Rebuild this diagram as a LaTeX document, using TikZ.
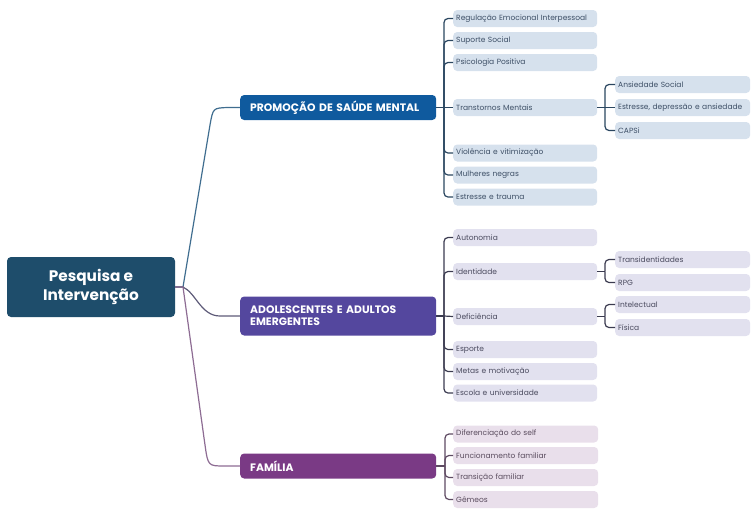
\documentclass[tikz,border=0pt]{standalone}
\usepackage{fontspec}
\setmainfont{Poppins}
\definecolor{rootc}{HTML}{1E4D6B}
\definecolor{bA}{HTML}{0F5A9E}
\definecolor{bB}{HTML}{54479E}
\definecolor{bC}{HTML}{7A3A85}
\definecolor{cA}{HTML}{3F6D8F}
\definecolor{cB}{HTML}{5D5A78}
\definecolor{cC}{HTML}{8D6C93}
\definecolor{kA}{HTML}{2A4660}
\definecolor{kB}{HTML}{3B3B50}
\definecolor{kC}{HTML}{5E4A62}
\definecolor{fA}{HTML}{D6E1ED}
\definecolor{fB}{HTML}{E2E1EF}
\definecolor{fC}{HTML}{E9DFEB}
\definecolor{tA}{HTML}{3D4F66}
\definecolor{tB}{HTML}{4A4A5E}
\definecolor{tC}{HTML}{5A4C5E}
\begin{document}
\begin{tikzpicture}[x=1pt,y=-1pt,
  rootbox/.style={fill=rootc, text=white, rounded corners=4pt, minimum width=168pt, minimum height=60pt, align=center, inner sep=0pt, font=\fontsize{15.3}{18.5}\selectfont\bfseries},
  branchbox/.style={anchor=west, text=white, rounded corners=4pt, minimum height=25pt, text width=176pt, inner xsep=10pt, inner ysep=0pt, align=left, font=\fontsize{10.8}{12}\selectfont\bfseries},
  leafbase/.style={anchor=west, rounded corners=4pt, minimum height=17pt, inner xsep=3pt, inner ysep=0pt, align=left, font=\fontsize{7.5}{8.5}\selectfont},
  leafA/.style={leafbase, fill=fA, text=tA, text width=138pt},
  leafB/.style={leafbase, fill=fB, text=tB, text width=138pt},
  leafC/.style={leafbase, fill=fC, text=tC, text width=139pt},
  subA/.style={leafbase, fill=fA, text=tA, text width=129pt},
  subB/.style={leafbase, fill=fB, text=tB, text width=129pt},
  conn/.style={line width=1.2pt, line join=round},
  brk/.style={line width=1.2pt, rounded corners=4pt},
]
\useasboundingbox (0,0) rectangle (752,515);

% root
\node[rootbox] (root) at (91,287) {Pesquisa e\\Intervenção};
\coordinate (j) at (183,287);

% branches
\node[branchbox, fill=bA] (b1) at (240,107.5) {PROMOÇÃO DE SAÚDE MENTAL};
\node[branchbox, fill=bB, minimum height=39pt] (b2) at (240,316) {ADOLESCENTES E ADULTOS\\EMERGENTES};
\node[branchbox, fill=bC] (b3) at (240,466) {FAMÍLIA};

% root connectors
\draw[conn, cA] (root.east) -- (j) -- (210,125) .. controls (213,108) .. (228,107.5) -- (b1.west);
\draw[conn, cB] (root.east) -- (j) .. controls (196,293) and (201,316) .. (220,316) -- (b2.west);
\draw[conn, cC] (root.east) -- (j) -- (205,445) .. controls (208,466) .. (225,466) -- (b3.west);

% branch 1 leaves
\node[leafA] (a1) at (453,18.5) {Regulação Emocional Interpessoal};
\node[leafA] (a2) at (453,40.5) {Suporte Social};
\node[leafA] (a3) at (453,62.5) {Psicologia Positiva};
\node[leafA] (a4) at (453,107.5) {Transtornos Mentais};
\node[leafA] (a5) at (453,153) {Violência e vitimização};
\node[leafA] (a6) at (453,175) {Mulheres negras};
\node[leafA] (a7) at (453,197) {Estresse e trauma};
\coordinate (k1) at (444,107.5);
\draw[brk, kA] (b1.east) -- (k1);
\foreach \n in {a1,a2,a3,a5,a6,a7} \draw[brk, kA] (k1) |- (\n.west);
\draw[brk, kA] (k1) -- (a4.west);

\node[subA] (s1) at (615,84.5) {Ansiedade Social};
\node[subA] (s2) at (615,107.5) {Estresse, depressão e ansiedade};
\node[subA] (s3) at (615,130.5) {CAPSi};
\coordinate (k2) at (605,107.5);
\draw[brk, kA] (a4.east) -- (k2);
\foreach \n in {s1,s3} \draw[brk, kA] (k2) |- (\n.west);
\draw[brk, kA] (k2) -- (s2.west);

% branch 2 leaves
\node[leafB] (m1) at (453,237.5) {Autonomia};
\node[leafB] (m2) at (453,271.5) {Identidade};
\node[leafB] (m3) at (453,316.5) {Deficiência};
\node[leafB] (m4) at (453,349.5) {Esporte};
\node[leafB] (m5) at (453,371.5) {Metas e motivação};
\node[leafB] (m6) at (453,393) {Escola e universidade};
\coordinate (k3) at (444,316);
\draw[brk, kB] (b2.east) -- (k3);
\foreach \n in {m1,m2,m4,m5,m6} \draw[brk, kB] (k3) |- (\n.west);
\draw[brk, kB] (k3) -- (m3.west);

\node[subB] (t1) at (615,259.5) {Transidentidades};
\node[subB] (t2) at (615,282.5) {RPG};
\coordinate (k4) at (605,271.5);
\draw[brk, kB] (m2.east) -- (k4);
\foreach \n in {t1,t2} \draw[brk, kB] (k4) |- (\n.west);

\node[subB] (t3) at (615,304.5) {Intelectual};
\node[subB] (t4) at (615,327.5) {Física};
\coordinate (k5) at (605,316.5);
\draw[brk, kB] (m3.east) -- (k5);
\foreach \n in {t3,t4} \draw[brk, kB] (k5) |- (\n.west);

% branch 3 leaves
\node[leafC] (f1) at (453,434) {Diferenciação do self};
\node[leafC] (f2) at (453,455.5) {Funcionamento familiar};
\node[leafC] (f3) at (453,477.5) {Transição familiar};
\node[leafC] (f4) at (453,499.5) {Gêmeos};
\coordinate (k6) at (445,466);
\draw[brk, kC] (b3.east) -- (k6);
\foreach \n in {f1,f2,f3,f4} \draw[brk, kC] (k6) |- (\n.west);
\end{tikzpicture}
\end{document}
